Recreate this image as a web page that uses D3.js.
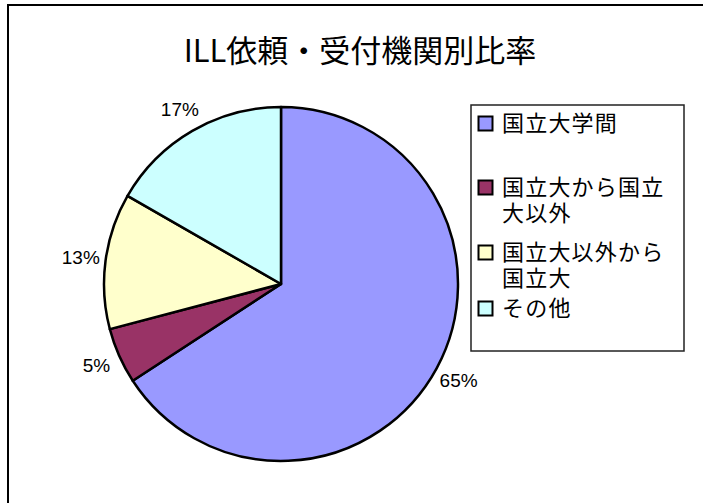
<!DOCTYPE html>
<html>
<head>
<meta charset="utf-8">
<script src="https://cdn.jsdelivr.net/npm/d3@7"></script>
<style>
  html, body { margin: 0; padding: 0; background: #fff; }
</style>
</head>
<body>
<svg id="drawing_region"></svg>
<script>
// data
const categories = ["国立大学間", "国立大から国立大以外", "国立大以外から国立大", "その他"];
const legend_lines = [["国立大学間"], ["国立大から国立", "大以外"], ["国立大以外から", "国立大"], ["その他"]];
const values = [65.8, 5.1, 12.4, 16.7];
const value_labels = ["65%", "5%", "13%", "17%"];
const colors = ["#9999FF", "#993366", "#FFFFCC", "#CCFFFF"];
const title = "ILL依頼・受付機関別比率";

// layout
const width = 709, height = 503;
const cx = 281, cy = 284, radius = 177, label_radius = 202;
const legend_box = {x: 471, y: 105, w: 213, h: 246};
const legend_row_y = [123, 187, 252, 308];

const svg = d3.select('#drawing_region')
    .attr('width', width)
    .attr('height', height);

// outer chart frame (only top and left edges are visible)
svg.append('path')
    .attr('d', `M8,${height} L8,5 L703,5`)
    .attr('fill', 'none')
    .attr('stroke', '#000')
    .attr('stroke-width', 2);

svg.append('text')
    .attr('x', 360)
    .attr('y', 62)
    .attr('text-anchor', 'middle')
    .attr('font-family', '"Noto Sans CJK JP", "Liberation Sans", sans-serif')
    .attr('font-size', '31px')
    .attr('fill', '#000')
    .text(title);

const pie = d3.pie().sort(null).value(d => d);
const arcs = pie(values);

const arc = d3.arc().innerRadius(0).outerRadius(radius);
const label_arc = d3.arc().innerRadius(label_radius).outerRadius(label_radius);

const chart = svg.append('g')
    .attr('transform', `translate(${cx}, ${cy})`);

chart.selectAll('path.slice')
    .data(arcs)
    .enter()
    .append('path')
    .attr('class', 'slice')
    .attr('d', arc)
    .attr('fill', (d, i) => colors[i])
    .attr('stroke', '#000')
    .attr('stroke-width', 2.5)
    .attr('stroke-linejoin', 'round');

chart.selectAll('text.pct')
    .data(arcs)
    .enter()
    .append('text')
    .attr('class', 'pct')
    .attr('x', d => label_arc.centroid(d)[0])
    .attr('y', d => label_arc.centroid(d)[1])
    .attr('text-anchor', 'middle')
    .attr('dominant-baseline', 'central')
    .attr('font-family', '"Liberation Sans", Arial, sans-serif')
    .attr('font-size', '19px')
    .attr('fill', '#000')
    .text((d, i) => value_labels[i]);

// legend
svg.append('rect')
    .attr('x', legend_box.x)
    .attr('y', legend_box.y)
    .attr('width', legend_box.w)
    .attr('height', legend_box.h)
    .attr('fill', '#fff')
    .attr('stroke', '#222')
    .attr('stroke-width', 1.5);

const items = svg.selectAll('g.legend-item')
    .data(categories)
    .enter()
    .append('g')
    .attr('class', 'legend-item')
    .attr('transform', (d, i) => `translate(${legend_box.x}, ${legend_row_y[i]})`);

items.append('rect')
    .attr('x', 7.5)
    .attr('y', -6.5)
    .attr('width', 14)
    .attr('height', 14)
    .attr('fill', (d, i) => colors[i])
    .attr('stroke', '#000')
    .attr('stroke-width', 2);

// one text per line so the wrapped labels stay separate
items.each(function(d, i) {
    const g = d3.select(this);
    legend_lines[i].forEach((line, j) => {
        g.append('text')
            .attr('x', 31)
            .attr('y', 8 + j * 26)
            .attr('font-family', '"Noto Sans CJK JP", sans-serif')
            .attr('font-size', '22px')
            .attr('letter-spacing', '1.2px')
            .attr('fill', '#000')
            .text(line);
    });
});
</script>
</body>
</html>
